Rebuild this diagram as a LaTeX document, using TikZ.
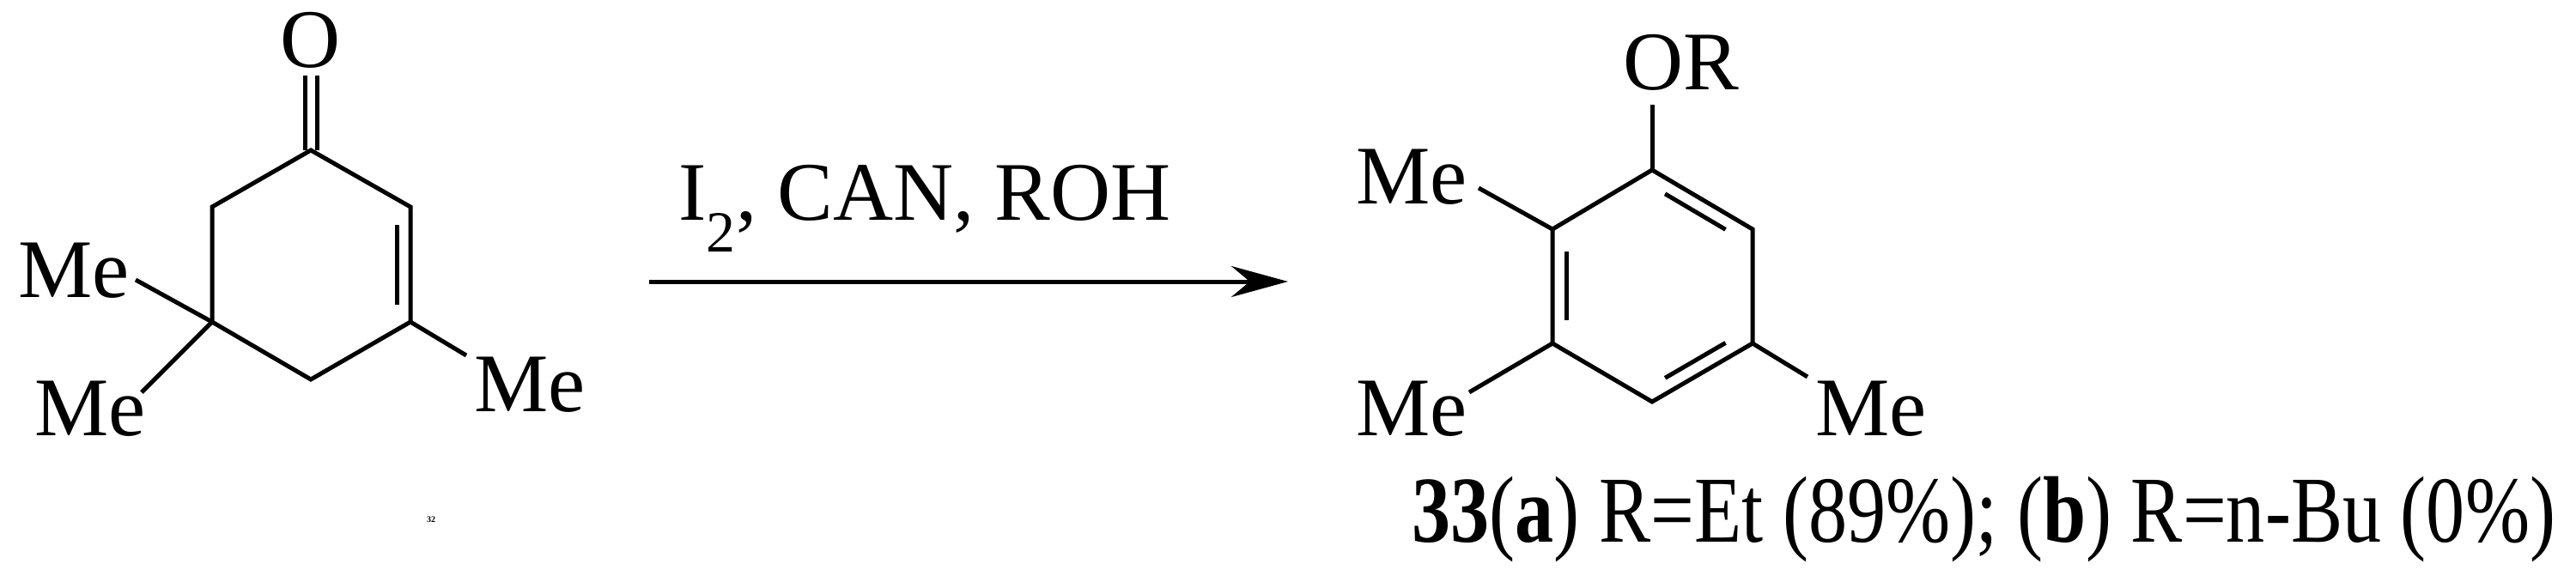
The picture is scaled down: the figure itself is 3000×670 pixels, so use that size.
\documentclass[tikz,border=0pt]{standalone}
\usepackage{fontspec}
\setmainfont{Liberation Serif}
\newfontfamily\narrowserif[FakeStretch=0.82]{Liberation Serif}
\usetikzlibrary{calc,arrows.meta}
\begin{document}
\begin{tikzpicture}[x=1pt,y=-1pt,line width=5pt,
  lbl/.style={inner sep=0pt,font=\fontsize{97}{105}\selectfont},
  captxt/.style={inner sep=0pt,font=\narrowserif\fontsize{110}{118}\selectfont}]
\useasboundingbox (0,0) rectangle (3000,670);
% left molecule
\coordinate (c1) at (362,175);
\coordinate (c2) at (478,241);
\coordinate (c3) at (478,375);
\coordinate (c4) at (362,442);
\coordinate (c5) at (247,375);
\coordinate (c6) at (247,241);
\coordinate (ot) at (362,88);
\node[lbl] (o) at (362,47) {O};
\draw (c1)--(c2)--(c3)--(c4)--(c5)--(c6)--cycle;
\draw ([xshift=-7pt]c1) -- ([xshift=-7pt]ot);
\draw ([xshift=7pt]c1) -- ([xshift=7pt]ot);
\draw (462,262) -- (462,355);
\coordinate (m1e) at (158,326);
\coordinate (m2e) at (165,457);
\coordinate (m3e) at (543,414);
\node[lbl] (m1) at (86,315) {Me};
\node[lbl] (m2) at (105,476) {Me};
\node[lbl] (m3) at (617,448) {Me};
\draw (c5)--(m1e); \draw (c5)--(m2e); \draw (c3)--(m3e);
\node[captxt,font=\bfseries] (n32) at (502,605) {32};
% arrow
\coordinate (as) at (756,328);
\coordinate (ae) at (1500,328);
\draw[-{Stealth[length=66pt,width=36pt]}] (as) -- (ae);
\node[lbl] (reag) at (1077,243) {I\textsubscript{2}, CAN, ROH};
% right molecule
\coordinate (cen) at (1924,333);
\coordinate (r1) at (1924,198);
\coordinate (r2) at (2041,267);
\coordinate (r3) at (2041,400);
\coordinate (r4) at (1924,468);
\coordinate (r5) at (1808,400);
\coordinate (r6) at (1808,267);
\draw (r1)--(r2)--(r3)--(r4)--(r5)--(r6)--cycle;
\draw ($($(r1)!0.15!(r2)$)!0.14!(cen)$) -- ($($(r1)!0.85!(r2)$)!0.14!(cen)$);
\draw ($($(r3)!0.15!(r4)$)!0.14!(cen)$) -- ($($(r3)!0.85!(r4)$)!0.14!(cen)$);
\draw ($($(r5)!0.15!(r6)$)!0.14!(cen)$) -- ($($(r5)!0.85!(r6)$)!0.14!(cen)$);
\coordinate (ore) at (1924,122);
\node[lbl,anchor=west] (or) at (1888,73) {OR};
\draw (r1)--(ore);
\coordinate (n1e) at (1722,219);
\coordinate (n2e) at (1711,457);
\coordinate (n3e) at (2105,439);
\node[lbl] (n1) at (1644,206) {Me};
\node[lbl] (n2) at (1644,476) {Me};
\node[lbl] (n3) at (2179,476) {Me};
\draw (r6)--(n1e); \draw (r5)--(n2e); \draw (r3)--(n3e);
\node[captxt,anchor=base west] (c33) at (1642,631) {\textbf{33}(\textbf{a}) R=Et (89\%); (\textbf{b}) R=n-Bu (0\%)};
\end{tikzpicture}
\end{document}
